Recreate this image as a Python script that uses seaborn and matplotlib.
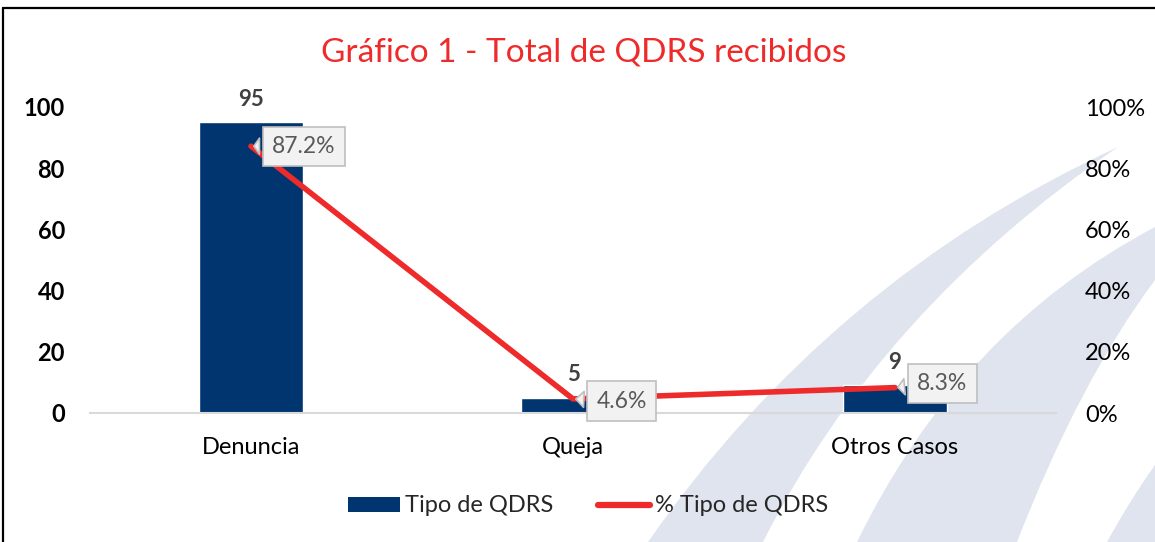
import numpy as np
import matplotlib
matplotlib.use("Agg")
import matplotlib.pyplot as plt
from matplotlib.path import Path
from matplotlib.patches import PathPatch
from matplotlib.lines import Line2D
from matplotlib.transforms import Affine2D
import seaborn as sns

# chart data
categories = ["Denuncia", "Queja", "Otros Casos"]
counts = [95, 5, 9]
shares = [0.872, 0.046, 0.083]
share_labels = ["87.2%", "4.6%", "8.3%"]
left_ticks = [0, 20, 40, 60, 80, 100]
right_ticks = [0, 0.2, 0.4, 0.6, 0.8, 1.0]

BAR_COLOR = "#00356f"
LINE_COLOR = "#ee2a2a"
SWOOSH = "#dfe4ee"
FS = 17

sns.set_theme(style="white")
plt.rcParams["font.family"] = ["Lato", "DejaVu Sans"]

W, H = 1155, 542
fig = plt.figure(figsize=(W / 100, H / 100), dpi=100)
px = Affine2D().scale(1 / W, -1 / H).translate(0, 1) + fig.transFigure

# background swooshes (pixel coords, y down)
C3, L, M = Path.CURVE3, Path.LINETO, Path.MOVETO
swooshes = [
    ([(648, 542), (830, 280), (1118, 147), (880, 310), (763, 542), (648, 542)],
     [M, C3, C3, C3, C3, L]),
    ([(857, 542), (960, 330), (1155, 227), (1155, 280), (1080, 380), (1017, 542), (857, 542)],
     [M, C3, C3, L, C3, C3, L]),
    ([(1107, 542), (1130, 500), (1155, 465), (1155, 542), (1107, 542)],
     [M, C3, C3, L, L]),
]
for verts, codes in swooshes:
    fig.patches.append(PathPatch(Path(verts, codes), transform=px, fc=SWOOSH,
                                 ec="none", zorder=-5))

# frame edges of the original chart box
fig.add_artist(Line2D([3, 1155], [8, 8], transform=px, color="black", lw=1.6))
fig.add_artist(Line2D([3, 3], [8, 542], transform=px, color="black", lw=1.6))

ax = fig.add_axes([90 / W, 1 - 413 / H, (1056 - 90) / W, (413 - 107) / H])
ax.patch.set_alpha(0)

x = np.arange(len(categories))
sns.barplot(x=x, y=counts, color=BAR_COLOR, width=0.32, saturation=1, ax=ax, zorder=2)
ax.bar_label(ax.containers[0], labels=[str(c) for c in counts], padding=9,
             fontsize=FS - 1, fontweight="bold", color="#404040")
ax.set_xlim(-0.5, len(categories) - 0.5)
ax.set_ylim(0, 100)
ax.set_yticks(left_ticks)
ax.set_yticklabels([str(t) for t in left_ticks], fontsize=FS, fontweight="bold", color="black")
ax.set_xticks(x)
ax.set_xticklabels(categories, fontsize=FS, color="black")
ax.tick_params(axis="x", length=0, pad=17)
ax.tick_params(axis="y", length=0, pad=18)
for s in ["top", "right", "left"]:
    ax.spines[s].set_visible(False)
ax.spines["bottom"].set_color("#d9d9d9")
ax.spines["bottom"].set_linewidth(1.5)
ax.set_xlabel("")
ax.set_ylabel("")

ax2 = ax.twinx()
ax2.patch.set_alpha(0)
sns.lineplot(x=x, y=shares, color=LINE_COLOR, lw=4, ax=ax2, zorder=3)
ax2.set_ylim(0, 1)
ax2.set_yticks(right_ticks)
ax2.set_yticklabels([f"{int(round(t * 100))}%" for t in right_ticks], fontsize=FS, color="black")
ax2.tick_params(axis="y", length=0, pad=21)
for s in ax2.spines.values():
    s.set_visible(False)
ax2.set_ylabel("")

offsets = [(38, 0), (35, -1.5), (34, 3)]
for xi, yi, lab, off in zip(x, shares, share_labels, offsets):
    ax2.annotate(lab, xy=(xi, yi), xytext=off, textcoords="offset points",
                 ha="center", va="center", fontsize=FS - 0.5, color="#595959", zorder=5,
                 bbox=dict(boxstyle="square,pad=0.4", fc="#f2f2f2", ec="#bfbfbf", lw=1.2),
                 arrowprops=dict(arrowstyle="wedge,tail_width=0.7,shrink_factor=0.5",
                                 fc="#f2f2f2", ec="#bfbfbf", lw=1.2))

fig.text(584 / W, 1 - 52 / H, "Gráfico 1 - Total de QDRS recibidos", ha="center",
         va="center", fontsize=24, color=LINE_COLOR)

handles = [plt.Rectangle((0, 0), 1, 1, fc=BAR_COLOR, ec="none"),
           Line2D([0], [0], color=LINE_COLOR, lw=4.5, solid_capstyle="round")]
fig.legend(handles, ["Tipo de QDRS", "% Tipo de QDRS"], loc="center",
           bbox_to_anchor=(588 / W, 1 - 506 / H), ncol=2, frameon=False,
           fontsize=FS, handlelength=2.2, handleheight=0.6, handletextpad=0.2,
           columnspacing=1.9)

fig.savefig("out.png", dpi=100)
